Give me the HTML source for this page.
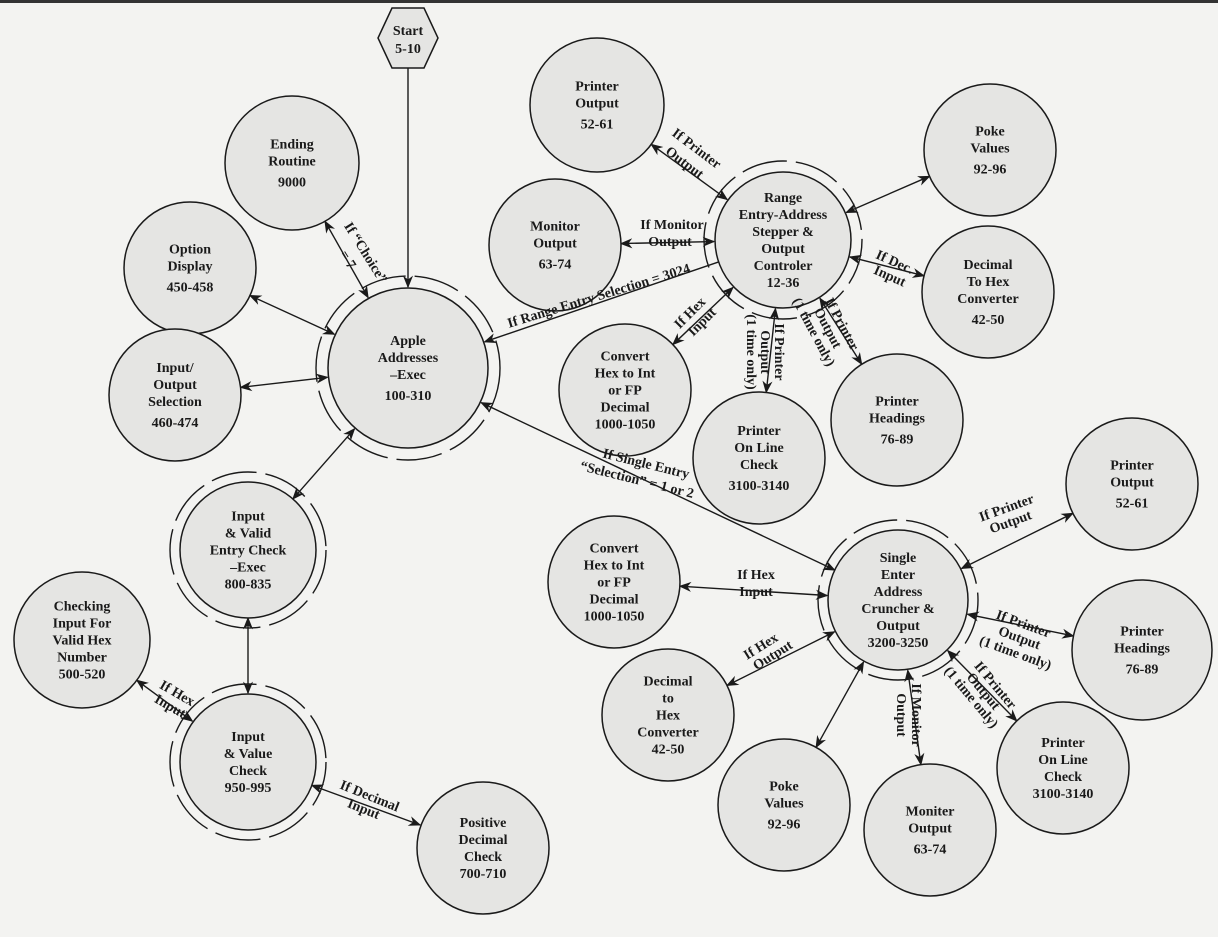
<!DOCTYPE html>
<html><head><meta charset="utf-8"><style>
html,body{margin:0;padding:0;background:#f3f3f1;}
svg{display:block}
text{font-family:"Liberation Serif",serif;font-weight:bold;font-size:14px;fill:#1a1a1a;text-anchor:middle}
.n{fill:#e5e5e3;stroke:#1a1a1a;stroke-width:1.5}
.e{stroke:#1a1a1a;stroke-width:1.4;fill:none}
.ring{fill:none;stroke:#1a1a1a;stroke-width:1.4;stroke-dasharray:46 9}
</style></head><body>
<svg id="s" width="1218" height="937" viewBox="0 0 1218 937" xmlns="http://www.w3.org/2000/svg">
<defs><marker id="a" viewBox="0 0 10 10" refX="9" refY="5" markerWidth="9" markerHeight="9" orient="auto-start-reverse"><path d="M0,1 L10,5 L0,9 L3,5 z" fill="#1a1a1a"/></marker></defs>
<rect x="0" y="0" width="1218" height="3" fill="#333"/>
<g id="edges"></g>
<circle class="ring" cx="408" cy="368" r="92"/>
<circle class="ring" cx="783" cy="240" r="79"/>
<circle class="ring" cx="898" cy="600" r="80"/>
<circle class="ring" cx="248" cy="550" r="78"/>
<circle class="ring" cx="248" cy="762" r="78"/>
<g id="nodes"></g>
<polygon class="n" points="392,8 424,8 438,38 424,68 392,68 378,38"/>
<text x="408" y="35">Start</text><text x="408" y="53">5-10</text>
<g>
<text transform="translate(362,255) rotate(58)">If “Choice”</text>
<text transform="translate(344,262) rotate(58)">= 7</text>
<text transform="translate(600,300) rotate(-17)">If Range Entry Selection = 3024</text>
<text transform="translate(645,468) rotate(14)">If Single Entry</text>
<text transform="translate(636,484) rotate(14)">“Selection” = 1 or 2</text>
<text transform="translate(694,152) rotate(37)">If Printer</text>
<text transform="translate(682,166) rotate(37)">Output</text>
<text x="672" y="229">If Monitor</text><text x="670" y="246">Output</text>
<text transform="translate(693,316) rotate(-45)">If Hex</text>
<text transform="translate(705,325) rotate(-45)">Input</text>
<text transform="translate(775,352) rotate(90)">If Printer</text>
<text transform="translate(761,352) rotate(90)">Output</text>
<text transform="translate(747,352) rotate(90)">(1 time only)</text>
<text transform="translate(838,326) rotate(62)">If Printer</text>
<text transform="translate(824,330) rotate(62)">Output</text>
<text transform="translate(810,334) rotate(62)">(1 time only)</text>
<text transform="translate(893,266) rotate(24)">If Dec.</text>
<text transform="translate(888,280) rotate(24)">Input</text>
<text transform="translate(1008,512) rotate(-20)">If Printer</text>
<text transform="translate(1012,526) rotate(-20)">Output</text>
<text transform="translate(1022,628) rotate(20)">If Printer</text>
<text transform="translate(1018,642) rotate(20)">Output</text>
<text transform="translate(1014,657) rotate(20)">(1 time only)</text>
<text transform="translate(992,688) rotate(50)">If Printer</text>
<text transform="translate(980,694) rotate(50)">Output</text>
<text transform="translate(968,700) rotate(50)">(1 time only)</text>
<text transform="translate(912,715) rotate(90)">If Monitor</text>
<text transform="translate(897,715) rotate(90)">Output</text>
<text transform="translate(763,650) rotate(-32)">If Hex</text>
<text transform="translate(775,659) rotate(-32)">Output</text>
<text x="756" y="579">If Hex</text><text x="756" y="596">Input</text>
<text transform="translate(175,697) rotate(30)">If Hex</text>
<text transform="translate(168,710) rotate(30)">Input</text>
<text transform="translate(368,800) rotate(22)">If Decimal</text>
<text transform="translate(362,813) rotate(22)">Input</text>
</g>
</svg>
<script>
var N={
ap:[408,368,80,["Apple","Addresses","–Exec","","100-310"]],
er:[292,163,67,["Ending","Routine","","9000"]],
od:[190,268,66,["Option","Display","","450-458"]],
io:[175,395,66,["Input/","Output","Selection","","460-474"]],
iv:[248,550,68,["Input","& Valid","Entry Check","–Exec","800-835"]],
ck:[82,640,68,["Checking","Input For","Valid Hex","Number","500-520"]],
vc:[248,762,68,["Input","& Value","Check","950-995"]],
pd:[483,848,66,["Positive","Decimal","Check","700-710"]],
po1:[597,105,67,["Printer","Output","","52-61"]],
mo1:[555,245,66,["Monitor","Output","","63-74"]],
re:[783,240,68,["Range","Entry-Address","Stepper &","Output","Controler","12-36"]],
pk1:[990,150,66,["Poke","Values","","92-96"]],
dh1:[988,292,66,["Decimal","To Hex","Converter","","42-50"]],
ch1:[625,390,66,["Convert","Hex to Int","or FP","Decimal","1000-1050"]],
ol1:[759,458,66,["Printer","On Line","Check","","3100-3140"]],
ph1:[897,420,66,["Printer","Headings","","76-89"]],
se:[898,600,70,["Single","Enter","Address","Cruncher &","Output","3200-3250"]],
po2:[1132,484,66,["Printer","Output","","52-61"]],
ph2:[1142,650,70,["Printer","Headings","","76-89"]],
ch2:[614,582,66,["Convert","Hex to Int","or FP","Decimal","1000-1050"]],
dh2:[668,715,66,["Decimal","to","Hex","Converter","42-50"]],
pk2:[784,805,66,["Poke","Values","","92-96"]],
mo2:[930,830,66,["Moniter","Output","","63-74"]],
ol2:[1063,768,66,["Printer","On Line","Check","3100-3140"]]
};
var E=[["er","ap",1],["od","ap",1],["io","ap",1],["iv","ap",1],["iv","vc",1],["ck","vc",1],["vc","pd",1],
["re","ap",0],["se","ap",1],["po1","re",1],["mo1","re",1],["pk1","re",1],["dh1","re",1],["ch1","re",1],["ol1","re",1],["ph1","re",1],
["po2","se",1],["ph2","se",1],["ol2","se",1],["mo2","se",1],["pk2","se",1],["dh2","se",1],["ch2","se",1]];
var s="";
E.forEach(function(e){var a=N[e[0]],b=N[e[1]];var dx=b[0]-a[0],dy=b[1]-a[1],L=Math.hypot(dx,dy),ux=dx/L,uy=dy/L;
var x1=a[0]+ux*a[2],y1=a[1]+uy*a[2],x2=b[0]-ux*(b[2]+1),y2=b[1]-uy*(b[2]+1);
s+='<line class="e" x1="'+x1+'" y1="'+y1+'" x2="'+x2+'" y2="'+y2+'" marker-end="url(#a)"'+(e[2]?' marker-start="url(#a)"':'')+'/>';});
s+='<line class="e" x1="408" y1="68" x2="408" y2="287" marker-end="url(#a)"/>';
document.getElementById("edges").innerHTML=s;
var t="";
for(var k in N){var n=N[k];t+='<circle class="n" cx="'+n[0]+'" cy="'+n[1]+'" r="'+n[2]+'"/>';
var lines=n[3],h=0;lines.forEach(function(l){h+=l?17:4});var y=n[1]-h/2+13;
lines.forEach(function(l){if(l){t+='<text x="'+n[0]+'" y="'+y+'">'+l+'</text>';y+=17}else y+=4;});}
document.getElementById("nodes").innerHTML=t;
</script>
</body></html>
